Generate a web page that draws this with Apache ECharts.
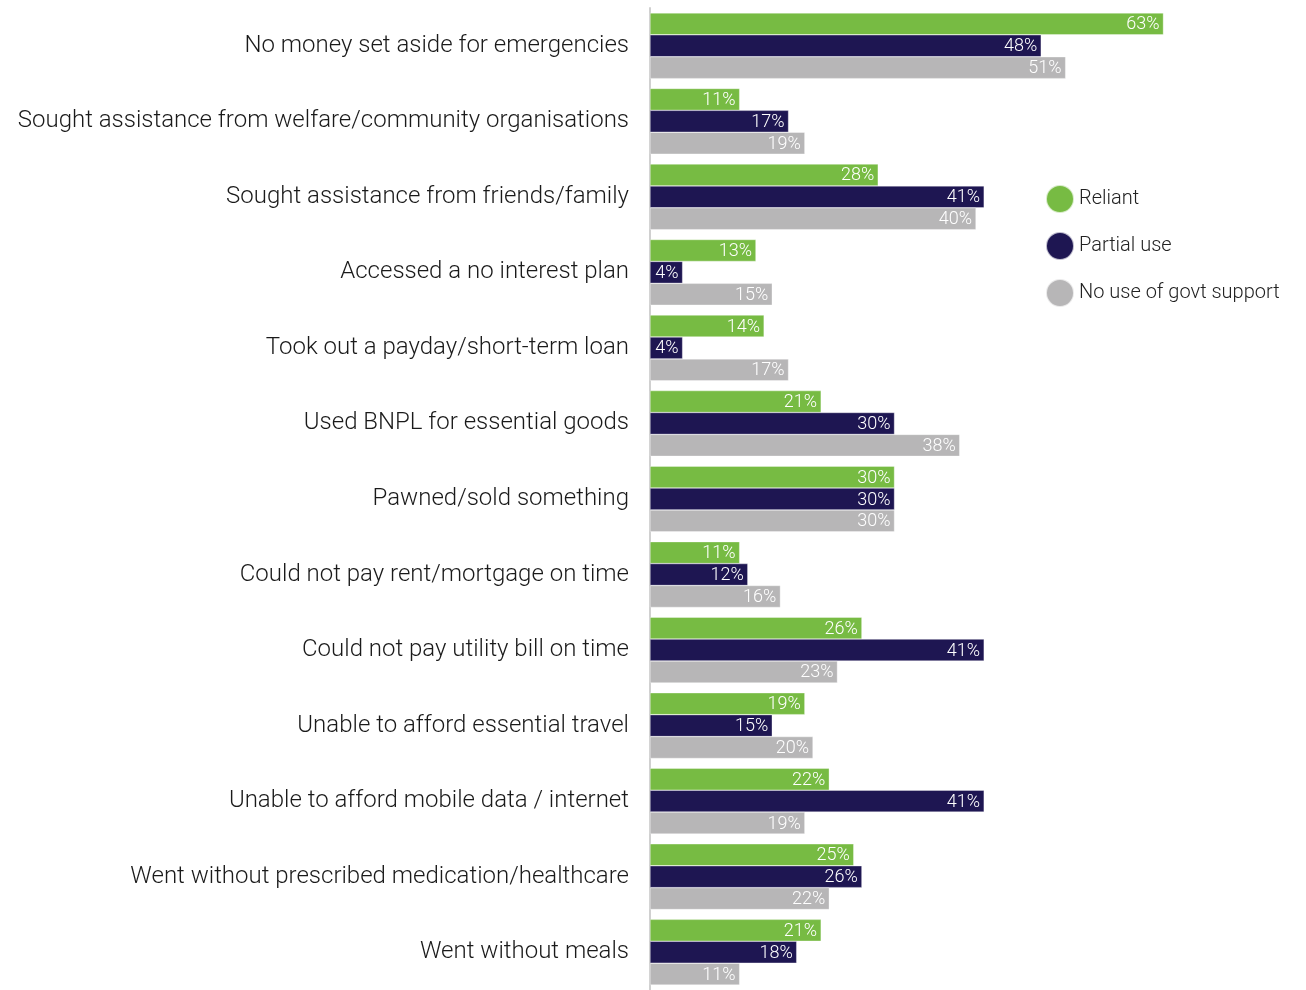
<!DOCTYPE html>
<html>
<head>
<meta charset="utf-8">
<script src="https://cdn.jsdelivr.net/npm/echarts@6/dist/echarts.min.js"></script>
<style>
  html, body { margin: 0; padding: 0; background: #fff; }
  #chart { width: 1306px; height: 990px; }
</style>
</head>
<body>
<div id="chart"></div>
<script>
// Financial hardship indicators by level of government support
const categories = [
  'No money set aside for emergencies',
  'Sought assistance from welfare/community organisations',
  'Sought assistance from friends/family',
  'Accessed a no interest plan',
  'Took out a payday/short-term loan',
  'Used BNPL for essential goods',
  'Pawned/sold something',
  'Could not pay rent/mortgage on time',
  'Could not pay utility bill on time',
  'Unable to afford essential travel',
  'Unable to afford mobile data / internet',
  'Went without prescribed medication/healthcare',
  'Went without meals'
];
const seriesNames = ['Reliant', 'Partial use', 'No use of govt support'];
const reliant    = [63, 11, 28, 13, 14, 21, 30, 11, 26, 19, 22, 25, 21];
const partialUse = [48, 17, 41,  4,  4, 30, 30, 12, 41, 15, 41, 26, 18];
const noUse      = [51, 19, 40, 15, 17, 38, 30, 16, 23, 20, 19, 22, 11];
const colors = ['#77bb43', '#1e1652', '#b7b6b7'];

const FONT = 'Roboto, "DejaVu Sans", sans-serif';

function barSeries(name, data, color) {
  return {
    name: name,
    type: 'bar',
    data: data,
    barGap: '0%',
    barCategoryGap: '13%',
    itemStyle: { color: color, borderColor: 'rgba(255,255,255,0.7)', borderWidth: 0.5 },
    label: {
      show: true,
      position: 'insideRight',
      distance: 4,
      offset: [0, 1],
      formatter: '{c}%',
      color: '#fff',
      fontFamily: FONT,
      fontWeight: 300,
      fontSize: 18
    }
  };
}

const chart = echarts.init(document.getElementById('chart'), null, { renderer: 'canvas' });
chart.setOption({
  animation: false,
  textStyle: { fontFamily: FONT },
  legend: {
    orient: 'vertical',
    left: 1040,
    top: 179,
    icon: 'circle',
    itemWidth: 28,
    itemHeight: 28,
    itemGap: 17,
    textStyle: { fontSize: 20, color: '#222', fontFamily: FONT, fontWeight: 300 },
    data: seriesNames
  },
  grid: { left: 650, right: 4, top: 8, height: 985, containLabel: false },
  xAxis: {
    type: 'value',
    min: 0,
    max: 80,
    show: false
  },
  yAxis: {
    type: 'category',
    inverse: true,
    data: categories,
    axisLine: { show: true, lineStyle: { color: '#d0d0d0', width: 2 } },
    axisTick: { show: false },
    axisLabel: { margin: 21, fontSize: 24, color: '#1a1a1a', fontFamily: FONT, fontWeight: 300 }
  },
  series: [
    barSeries(seriesNames[0], reliant, colors[0]),
    barSeries(seriesNames[1], partialUse, colors[1]),
    barSeries(seriesNames[2], noUse, colors[2])
  ]
});
</script>
</body>
</html>
